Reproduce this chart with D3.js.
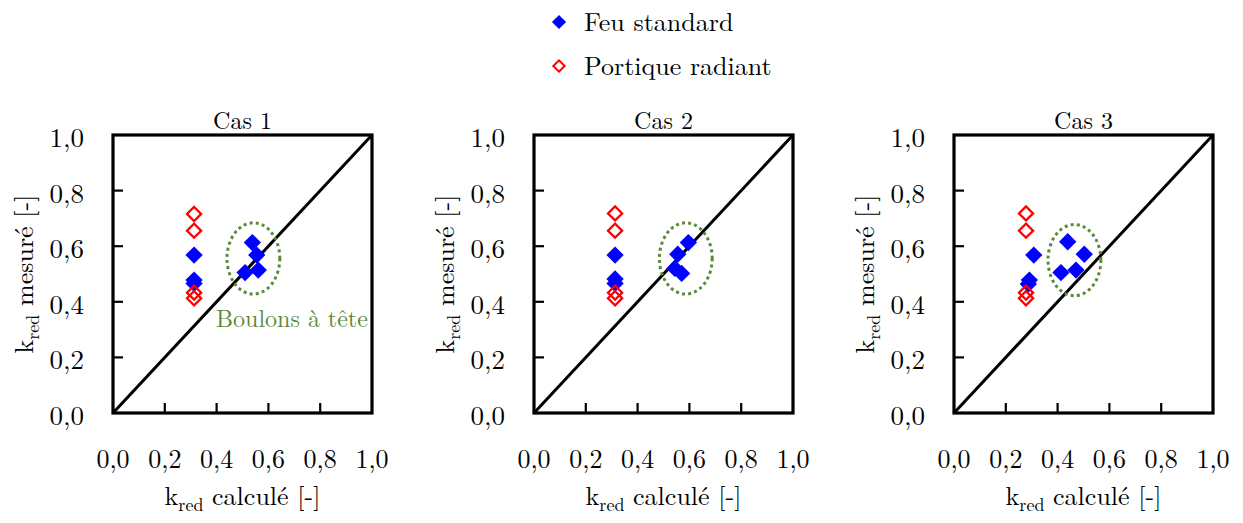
<!DOCTYPE html>
<html><head><meta charset="utf-8">
<script src="https://cdn.jsdelivr.net/npm/d3@7"></script>
<style>body{margin:0;background:#fff;}</style>
</head>
<body>
<svg id="c" width="1243" height="523" font-family="'Latin Modern Roman', 'Liberation Serif'"></svg>
<script>
const ticks = [0, 0.2, 0.4, 0.6, 0.8, 1.0];
const tickLabels = ["0,0", "0,2", "0,4", "0,6", "0,8", "1,0"];
const caseTitles = ["Cas 1", "Cas 2", "Cas 3"];
const seriesNames = ["Feu standard", "Portique radiant"];

const feuCas1 = [[0.313,0.568],[0.313,0.478],[0.313,0.466],[0.538,0.613],[0.555,0.568],[0.510,0.505],[0.561,0.514]];
const portiqueCas1 = [[0.313,0.716],[0.313,0.656],[0.313,0.433],[0.313,0.413]];
const feuCas2 = [[0.313,0.568],[0.313,0.482],[0.313,0.466],[0.596,0.613],[0.555,0.571],[0.544,0.520],[0.570,0.502]];
const portiqueCas2 = [[0.313,0.718],[0.313,0.656],[0.313,0.433],[0.313,0.413]];
const feuCas3 = [[0.308,0.568],[0.291,0.478],[0.287,0.464],[0.439,0.616],[0.503,0.571],[0.413,0.505],[0.471,0.514]];
const portiqueCas3 = [[0.278,0.718],[0.278,0.656],[0.278,0.433],[0.278,0.413]];
const ellipseCenters = [[0.542,0.556],[0.586,0.556],[0.465,0.550]];
const ellipseRadii = [0.102, 0.128];
const diagonal = [[0,0],[1,1]];
const annotation = "Boulons à tête";

const feu = [feuCas1, feuCas2, feuCas3];
const portique = [portiqueCas1, portiqueCas2, portiqueCas3];

const svg = d3.select("#c");
const FONT = "'Latin Modern Roman', 'Liberation Serif'";
const W = 259, H = 278, plotTop = 135;
const lefts = [113, 534, 954];
const blue = "#0000ff", red = "#ff0000", green = "#5b8a3c";

function txt(sel) { return sel.append("text").attr("font-family", FONT).attr("fill", "#000"); }

// legend
const leg = svg.append("g");
leg.append("path").attr("d", d3.symbol(d3.symbolSquare, 100)()).attr("transform","translate(559,22) rotate(45)").attr("fill", blue);
leg.append("path").attr("d", d3.symbol(d3.symbolSquare, 64)()).attr("transform","translate(559,66) rotate(45)").attr("fill","none").attr("stroke",red).attr("stroke-width",2);
txt(leg).attr("x",584).attr("y",31).attr("font-size",26).text(seriesNames[0]);
txt(leg).attr("x",584).attr("y",75).attr("font-size",26).text(seriesNames[1]);

caseTitles.forEach((title, i) => {
  const L = lefts[i];
  const x = d3.scaleLinear().domain([0,1]).range([L, L+W]);
  const y = d3.scaleLinear().domain([0,1]).range([plotTop+H, plotTop]);
  const g = svg.append("g");

  // ticks inward
  g.selectAll(".xt").data(ticks.slice(1,-1)).join("line")
    .attr("x1", d=>x(d)).attr("x2", d=>x(d)).attr("y1", y(0)).attr("y2", y(0)-10)
    .attr("stroke","#000").attr("stroke-width",2.2);
  g.selectAll(".yt").data(ticks.slice(1,-1)).join("line")
    .attr("y1", d=>y(d)).attr("y2", d=>y(d)).attr("x1", x(0)).attr("x2", x(0)+10)
    .attr("stroke","#000").attr("stroke-width",2.2);

  // tick labels
  g.selectAll(".xl").data(ticks).join("text")
    .attr("font-family", FONT)
    .attr("x", d=>x(d)).attr("y", 468).attr("text-anchor","middle").attr("font-size",26)
    .text((d,k)=>tickLabels[k]);
  g.selectAll(".yl").data(ticks).join("text")
    .attr("font-family", FONT)
    .attr("x", x(0)-29).attr("y", d=>y(d)+12).attr("text-anchor","end").attr("font-size",27)
    .text((d,k)=>tickLabels[k]);

  // diagonal
  g.append("path").datum(diagonal)
    .attr("d", d3.line().x(d=>x(d[0])).y(d=>y(d[1])))
    .attr("stroke","#000").attr("stroke-width",3).attr("fill","none");

  // ellipse
  const c = ellipseCenters[i];
  g.append("ellipse")
    .attr("cx", x(c[0])).attr("cy", y(c[1]))
    .attr("rx", x(ellipseRadii[0]) - x(0)).attr("ry", y(0) - y(ellipseRadii[1]))
    .attr("fill","none").attr("stroke",green).attr("stroke-width",3)
    .attr("stroke-dasharray","3,3.2");

  // points
  g.selectAll(".feu").data(feu[i]).join("path")
    .attr("d", d3.symbol(d3.symbolSquare, 150)())
    .attr("transform", d=>`translate(${x(d[0])},${y(d[1])}) rotate(45)`)
    .attr("fill", blue);
  g.selectAll(".por").data(portique[i]).join("path")
    .attr("d", d3.symbol(d3.symbolSquare, 100)())
    .attr("transform", d=>`translate(${x(d[0])},${y(d[1])}) rotate(45)`)
    .attr("fill","none").attr("stroke",red).attr("stroke-width",2.3);

  // frame
  g.append("rect").attr("x", L).attr("y", plotTop).attr("width", W).attr("height", H)
    .attr("fill","none").attr("stroke","#000").attr("stroke-width",3.2);

  // title
  txt(g).attr("x", L+W/2).attr("y", 129).attr("text-anchor","middle").attr("font-size",24).text(title);

  // x label
  const xt = txt(g).attr("x", L+W/2).attr("y", 505).attr("text-anchor","middle").attr("font-size",26);
  xt.append("tspan").text("k");
  xt.append("tspan").attr("font-size",18).attr("dy",6).text("red");
  xt.append("tspan").attr("dy",-6).text(" calculé [-]");

  // y label
  const yt = txt(g).attr("transform", `translate(${L-80},${plotTop+H/2}) rotate(-90)`)
    .attr("text-anchor","middle").attr("font-size",26);
  yt.append("tspan").text("k");
  yt.append("tspan").attr("font-size",18).attr("dy",6).text("red");
  yt.append("tspan").attr("dy",-6).text(" mesuré [-]");

  if (i === 0) {
    txt(g).attr("x", x(0.398)).attr("y", 327).attr("font-size",24)
      .attr("fill", green).text(annotation);
  }
});
</script>
</body></html>
